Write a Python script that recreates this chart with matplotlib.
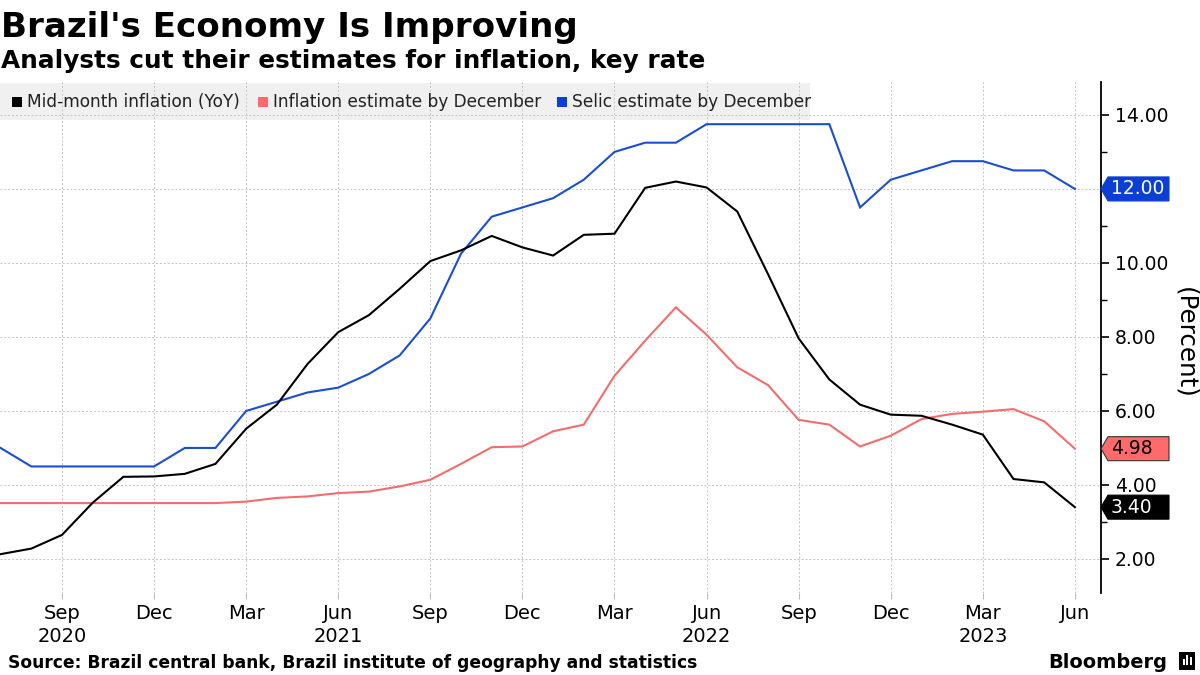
import numpy as np
import pandas as pd
import matplotlib
matplotlib.use("Agg")
import matplotlib.pyplot as plt
from matplotlib.patches import Rectangle, Polygon
from matplotlib.ticker import FixedLocator, MultipleLocator

# ---------------- data ----------------
months = pd.period_range("2020-07", "2023-06", freq="M")
inflation_yoy = [2.13, 2.28, 2.65, 3.52, 4.22, 4.23, 4.30, 4.57, 5.52, 6.17, 7.27, 8.13,
                 8.59, 9.30, 10.05, 10.34, 10.73, 10.42, 10.20, 10.76, 10.79, 12.03, 12.20, 12.04,
                 11.39, 9.70, 7.96, 6.85, 6.17, 5.90, 5.87, 5.63, 5.36, 4.16, 4.07, 3.40]
inflation_est = [3.51, 3.51, 3.51, 3.51, 3.51, 3.51, 3.51, 3.51, 3.55, 3.65, 3.69, 3.78,
                 3.82, 3.96, 4.14, 4.57, 5.02, 5.04, 5.45, 5.63, 6.95, 7.90, 8.80, 8.06,
                 7.18, 6.70, 5.76, 5.63, 5.04, 5.33, 5.78, 5.92, 5.98, 6.05, 5.72, 4.98]
selic_est = [5.00, 4.50, 4.50, 4.50, 4.50, 4.50, 5.00, 5.00, 6.00, 6.25, 6.50, 6.63,
             7.00, 7.50, 8.50, 10.25, 11.25, 11.50, 11.75, 12.25, 13.00, 13.25, 13.25, 13.75,
             13.75, 13.75, 13.75, 13.75, 11.50, 12.25, 12.50, 12.75, 12.75, 12.50, 12.50, 12.00]
series_names = ["Mid-month inflation (YoY)", "Inflation estimate by December", "Selic estimate by December"]
year_label_months = ["2020-09", "2021-06", "2022-06", "2023-03"]
y_ticks = [2, 4, 6, 8, 10, 12, 14]

title = "Brazil's Economy Is Improving"
subtitle = "Analysts cut their estimates for inflation, key rate"
source = "Source: Brazil central bank, Brazil institute of geography and statistics"

# ---------------- style ----------------
BLACK = "#000000"
RED = "#f46c6c"
BLUE = "#1a4ed2"
TAG_BLUE = "#0b3fd4"
TAG_RED = "#ff6b6b"
REG = ["DejaVu Sans"]

W, H = 1200, 675
fig = plt.figure(figsize=(12, 6.75), dpi=100)
fig.patch.set_facecolor("white")

def fx(px):
    return px / W

def fy(py):
    return 1 - py / H

ax_l, ax_r, ax_t, ax_b = 0, 1101, 82, 593
ax = fig.add_axes([fx(ax_l), fy(ax_b), fx(ax_r - ax_l), (ax_b - ax_t) / H])

x = np.arange(len(months))
colors = [BLACK, RED, BLUE]
for vals, c in zip([selic_est, inflation_est, inflation_yoy], [BLUE, RED, BLACK]):
    ax.plot(x, vals, color=c, lw=1.5, zorder=3, solid_joinstyle="miter")

ax.set_xlim(-0.02, 35.85)
ax.set_ylim(1.08, 14.89)

# spines
for s in ["top", "left", "bottom"]:
    ax.spines[s].set_visible(False)
ax.spines["right"].set_color("black")
ax.spines["right"].set_linewidth(1.3)

# value tags (defined first so tick labels they cover can be blanked)
tags = [(selic_est[-1], TAG_BLUE, "white", TAG_BLUE),
        (inflation_est[-1], TAG_RED, "black", "#333333"),
        (inflation_yoy[-1], BLACK, "white", BLACK)]

# y axis right
ax.yaxis.tick_right()
ax.yaxis.set_major_locator(FixedLocator(y_ticks))
ax.yaxis.set_minor_locator(MultipleLocator(1))
ylabels = []
for v in y_ticks:
    covered = any(abs(v - tv) < 0.2 for tv, *_ in tags)
    ylabels.append("" if covered else f"{v:.2f}")
ax.set_yticklabels(ylabels)
ax.tick_params(axis="y", which="major", length=6, width=1.2, color="black",
               labelsize=13.5, pad=4, labelcolor="black")
ax.tick_params(axis="y", which="minor", length=4, width=1.0, color="black")
for lab in ax.get_yticklabels():
    lab.set_family(REG)

# x axis ticks: quarterly
tick_pos = [i for i, m in enumerate(months) if m.month in (3, 6, 9, 12)]
tick_lab = []
for i in tick_pos:
    m = months[i]
    lab = m.strftime("%b")
    if str(m) in year_label_months:
        lab += "\n" + str(m.year)
    tick_lab.append(lab)
ax.set_xticks(tick_pos)
ax.set_xticklabels(tick_lab, linespacing=1.25)
ax.tick_params(axis="x", which="major", length=4, width=0.8, color="#bbbbbb",
               labelsize=14, pad=4)
for lab in ax.get_xticklabels():
    lab.set_family(REG)
    lab.set_verticalalignment("top")

# grid
ax.set_axisbelow(True)
ax.grid(True, which="major", color="#c4c4c4", linestyle=(0, (2, 2)), linewidth=0.7)

# legend band
band = Rectangle((0, 1 - (120 - ax_t) / (ax_b - ax_t)), 810 / (ax_r - ax_l),
                 (120 - 83) / (ax_b - ax_t), transform=ax.transAxes,
                 facecolor="#f0f0f0", edgecolor="none", zorder=0.3)
ax.add_patch(band)

renderer = fig.canvas.get_renderer()

def fit(t, target_w):
    w = t.get_window_extent(renderer).width
    t.set_fontsize(t.get_fontsize() * target_w / w)
    return t

# legend entries
leg_sq = [12, 258, 557]
leg_tx = [27, 273, 572]
leg_fs = None
for i, (name, c) in enumerate(zip(series_names, colors)):
    fig.patches.append(Rectangle((fx(leg_sq[i]), fy(107)), fx(10), 10 / H,
                                 transform=fig.transFigure, facecolor=[BLACK, TAG_RED, TAG_BLUE][i],
                                 edgecolor="none", figure=fig))
    t = fig.text(fx(leg_tx[i]), fy(102), name, fontsize=12, family=REG,
                 va="center", ha="left", color="#222222")
    if i == 0:
        fit(t, 213)
        leg_fs = t.get_fontsize()
    else:
        t.set_fontsize(leg_fs)

# titles
t1 = fig.text(fx(1), fy(37), title, fontsize=30, fontweight="bold", family=REG,
              va="baseline", ha="left", color="black")
fit(t1, 577)
t2 = fig.text(fx(1), fy(68), subtitle, fontsize=20, fontweight="bold", family=REG,
              va="baseline", ha="left", color="black")
fit(t2, 701)
t3 = fig.text(fx(8), fy(668), source, fontsize=13, fontweight="bold", family=REG,
              va="baseline", ha="left", color="black")
fit(t3, 682)
t4 = fig.text(fx(1048), fy(668), "Bloomberg", fontsize=16, fontweight="bold", family=REG,
              va="baseline", ha="left", color="black")
fit(t4, 119)
# small logo icon
fig.patches.append(Rectangle((fx(1179), fy(670)), fx(16), 18 / H,
                             transform=fig.transFigure, facecolor="black",
                             edgecolor="none", figure=fig))
for bx, bh in zip([1182.5, 1186, 1189.5], [6, 10, 8]):
    fig.patches.append(Rectangle((fx(bx), fy(665)), fx(2), bh / H,
                                 transform=fig.transFigure, facecolor="white",
                                 edgecolor="none", figure=fig))

# y label
yl = fig.text(fx(1185), fy(343), "(Percent)", rotation=270, fontsize=16, family=REG,
              va="center", ha="center", color="black")
h = yl.get_window_extent(renderer).height
yl.set_fontsize(yl.get_fontsize() * 112 / h)

# draw value tags
to_fig = fig.transFigure.inverted()
for val, fc, tc, ec in tags:
    ypx = ax.transData.transform((0, val))[1]
    tip, body, right, hh = 1101, 1108, 1169, 12
    pts_disp = [(tip, ypx), (body, ypx + hh), (right, ypx + hh), (right, ypx - hh), (body, ypx - hh)]
    pts = to_fig.transform(pts_disp)
    fig.patches.append(Polygon(pts, closed=True, transform=fig.transFigure,
                               facecolor=fc, edgecolor=ec, linewidth=0.8, figure=fig, zorder=5))
    fig.text(fx(1111), ypx / H, f"{val:.2f}", fontsize=13.5, family=REG,
             color=tc, va="center", ha="left", zorder=6)

fig.savefig("out.png", dpi=100)
